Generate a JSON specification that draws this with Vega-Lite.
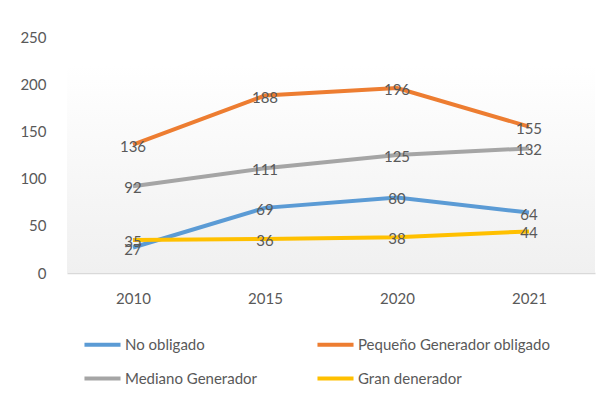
{
  "$schema": "https://vega.github.io/schema/vega-lite/v6.json",
  "width": 528,
  "height": 236,
  "autosize": {"type": "none"},
  "padding": {"left": 67, "top": 37, "right": 6, "bottom": 127},
  "background": "#ffffff",
  "config": {
    "view": {"stroke": null},
    "font": "Lato",
    "text": {"font": "Lato"}
  },
  "data": {
    "values": [
      {"year": "2010", "series": "No obligado", "value": 27},
      {"year": "2015", "series": "No obligado", "value": 69},
      {"year": "2020", "series": "No obligado", "value": 80},
      {"year": "2021", "series": "No obligado", "value": 64},
      {"year": "2010", "series": "Pequeño Generador obligado", "value": 136},
      {"year": "2015", "series": "Pequeño Generador obligado", "value": 188},
      {"year": "2020", "series": "Pequeño Generador obligado", "value": 196},
      {"year": "2021", "series": "Pequeño Generador obligado", "value": 155},
      {"year": "2010", "series": "Mediano Generador", "value": 92},
      {"year": "2015", "series": "Mediano Generador", "value": 111},
      {"year": "2020", "series": "Mediano Generador", "value": 125},
      {"year": "2021", "series": "Mediano Generador", "value": 132},
      {"year": "2010", "series": "Gran denerador", "value": 35},
      {"year": "2015", "series": "Gran denerador", "value": 36},
      {"year": "2020", "series": "Gran denerador", "value": 38},
      {"year": "2021", "series": "Gran denerador", "value": 44}
    ]
  },
  "encoding": {
    "x": {
      "field": "year",
      "type": "ordinal",
      "scale": {"type": "point", "padding": 0.5},
      "axis": {
        "title": null,
        "labelAngle": 0,
        "ticks": false,
        "domainColor": "#d9d9d9",
        "domainWidth": 1.5,
        "labelColor": "#595959",
        "labelFontSize": 15,
        "labelPadding": 18,
        "grid": false
      }
    },
    "y": {
      "field": "value",
      "type": "quantitative",
      "scale": {"domain": [0, 250], "nice": false},
      "axis": {
        "title": null,
        "values": [0, 50, 100, 150, 200, 250],
        "domain": false,
        "ticks": false,
        "grid": false,
        "labelColor": "#595959",
        "labelFontSize": 15,
        "labelPadding": 21
      }
    }
  },
  "layer": [
    {
      "mark": {
        "type": "rect",
        "color": {
          "gradient": "linear",
          "x1": 0, "y1": 0, "x2": 0, "y2": 1,
          "stops": [
            {"offset": 0, "color": "#ffffff"},
            {"offset": 1, "color": "#f0f0f0"}
          ]
        }
      },
      "encoding": {
        "x": null,
        "y": {"datum": 0, "type": "quantitative"},
        "y2": {"datum": 220}
      }
    },
    {
      "mark": {"type": "line", "strokeWidth": 4},
      "encoding": {
        "color": {
          "field": "series",
          "type": "nominal",
          "scale": {
            "domain": ["No obligado", "Pequeño Generador obligado", "Mediano Generador", "Gran denerador"],
            "range": ["#5b9bd5", "#ed7d31", "#a5a5a5", "#ffc000"]
          },
          "legend": {
            "title": null,
            "orient": "none",
            "legendX": 15,
            "legendY": 287,
            "columns": 2,
            "direction": "horizontal",
            "columnPadding": 51,
            "rowPadding": 5,
            "symbolType": "stroke",
            "symbolSize": 1300,
            "symbolStrokeWidth": 4,
            "labelFontSize": 15,
            "labelColor": "#595959",
            "labelOffset": 2,
            "labelLimit": 300
          }
        }
      }
    },
    {
      "mark": {"type": "text", "fontSize": 15, "color": "#595959", "dy": 2},
      "encoding": {
        "text": {"field": "value", "type": "quantitative"}
      }
    }
  ]
}
